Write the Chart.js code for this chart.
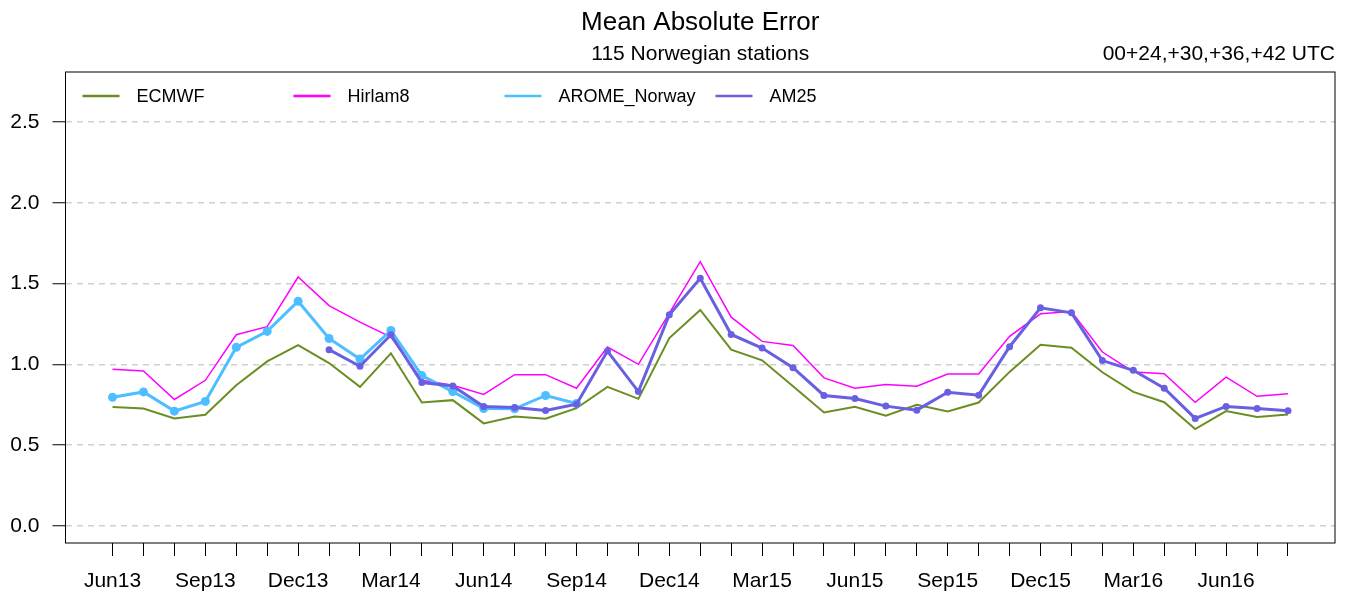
<!DOCTYPE html>
<html>
<head>
<meta charset="utf-8">
<script src="https://cdn.jsdelivr.net/npm/chart.js@4/dist/chart.umd.min.js"></script>
<style>
  body { margin: 0; background: #fff; }
  #wrap { position: relative; width: 1349px; height: 598px; }
</style>
</head>
<body>
<div id="wrap"><canvas id="maeChart"></canvas></div>
<script>
const months = ['Jun13','Jul13','Aug13','Sep13','Oct13','Nov13','Dec13',
  'Jan14','Feb14','Mar14','Apr14','May14','Jun14','Jul14','Aug14','Sep14','Oct14','Nov14','Dec14',
  'Jan15','Feb15','Mar15','Apr15','May15','Jun15','Jul15','Aug15','Sep15','Oct15','Nov15','Dec15',
  'Jan16','Feb16','Mar16','Apr16','May16','Jun16','Jul16','Aug16'];

const ecmwf = [0.736,0.726,0.665,0.687,0.870,1.018,1.119,1.008,0.860,1.068,0.763,0.778,
  0.634,0.677,0.663,0.728,0.860,0.786,1.163,1.337,1.091,1.025,0.864,0.702,
  0.737,0.681,0.749,0.708,0.763,0.953,1.121,1.103,0.951,0.829,0.765,0.599,0.710,0.673,0.689];

const hirlam8 = [0.969,0.959,0.782,0.901,1.183,1.233,1.541,1.364,1.261,1.169,0.901,0.870,
  0.813,0.936,0.936,0.852,1.107,1.000,1.317,1.636,1.292,1.142,1.117,0.916,
  0.852,0.875,0.864,0.940,0.940,1.173,1.313,1.327,1.076,0.953,0.942,0.765,0.920,0.802,0.817];

const aromeNorway = [0.796,0.829,0.710,0.770,1.105,1.204,1.391,1.160,1.033,1.210,0.930,0.831,
  0.726,0.724,0.807,0.757,null,null,null,null,null,null,null,null,
  null,null,null,null,null,null,null,null,null,null,null,null,null,null,null];

const am25 = [null,null,null,null,null,null,null,1.091,0.988,1.183,0.887,0.866,
  0.739,0.733,0.714,0.753,1.082,0.831,1.307,1.533,1.185,1.101,0.979,0.807,
  0.788,0.741,0.716,0.827,0.809,1.109,1.350,1.319,1.023,0.963,0.852,0.665,0.739,0.726,0.712];

const yTicks = [0, 0.5, 1.0, 1.5, 2.0, 2.5];

const toPoints = arr => arr.map((v, i) => ({ x: i, y: v }));

const FONT = 'Liberation Sans, Arial, Helvetica, sans-serif';

// titles, box and the legend inside the plot
const decorations = {
  id: 'decorations',
  afterDraw(chart) {
    const ctx = chart.ctx;
    const a = chart.chartArea;
    const mid = (a.left + a.right) / 2;
    ctx.save();
    ctx.strokeStyle = '#000';
    ctx.lineWidth = 1;
    ctx.strokeRect(a.left, a.top, a.right - a.left, a.bottom - a.top);

    ctx.fillStyle = '#000';
    ctx.textBaseline = 'alphabetic';
    ctx.textAlign = 'center';
    ctx.font = '26px ' + FONT;
    ctx.fillText('Mean Absolute Error', mid, 30);
    ctx.font = '21px ' + FONT;
    ctx.fillText('115 Norwegian stations', mid, 60);
    ctx.textAlign = 'right';
    ctx.fillText('00+24,+30,+36,+42 UTC', a.right, 60);

    const offsets = [17, 228, 439, 650];
    ctx.font = '18px ' + FONT;
    ctx.textAlign = 'left';
    ctx.textBaseline = 'middle';
    chart.data.datasets.forEach((ds, i) => {
      const x = a.left + offsets[i];
      const y = 96;
      ctx.strokeStyle = ds.borderColor;
      ctx.lineWidth = 2.5;
      ctx.beginPath();
      ctx.moveTo(x, y);
      ctx.lineTo(x + 37, y);
      ctx.stroke();
      ctx.fillStyle = '#000';
      ctx.fillText(ds.label, x + 54, y + 1);
    });
    ctx.restore();
  }
};

new Chart(document.querySelector('#maeChart'), {
  type: 'line',
  data: {
    datasets: [
      {
        label: 'ECMWF',
        data: toPoints(ecmwf),
        borderColor: 'rgb(107, 142, 35)',
        borderWidth: 2,
        pointRadius: 0,
        order: 4
      },
      {
        label: 'Hirlam8',
        data: toPoints(hirlam8),
        borderColor: 'rgb(255, 0, 255)',
        borderWidth: 1.5,
        pointRadius: 0,
        order: 3
      },
      {
        label: 'AROME_Norway',
        data: toPoints(aromeNorway),
        borderColor: 'rgb(77, 190, 255)',
        backgroundColor: 'rgb(77, 190, 255)',
        borderWidth: 3,
        pointRadius: 4.5,
        pointBorderWidth: 0,
        order: 2
      },
      {
        label: 'AM25',
        data: toPoints(am25),
        borderColor: 'rgb(104, 96, 224)',
        backgroundColor: 'rgb(104, 96, 224)',
        borderWidth: 3,
        pointRadius: 3.5,
        pointBorderWidth: 0,
        order: 1
      }
    ]
  },
  options: {
    responsive: true,
    maintainAspectRatio: false,
    animation: false,
    layout: { padding: { top: 72, right: 14, bottom: 0, left: 0 } },
    plugins: {
      legend: { display: false },
      tooltip: { enabled: false }
    },
    scales: {
      x: {
        type: 'linear',
        min: -1.52,
        max: 39.52,
        afterFit: s => { s.height = 55; },
        afterBuildTicks: s => { s.ticks = months.map((m, i) => ({ value: i })); },
        border: { display: false },
        grid: {
          drawOnChartArea: false,
          drawTicks: true,
          tickLength: 13,
          tickColor: '#000',
          color: '#000'
        },
        ticks: {
          autoSkip: false,
          maxRotation: 0,
          padding: 13,
          color: '#000',
          font: { family: FONT, size: 21 },
          callback: v => (v % 3 === 0 ? months[v] : '')
        }
      },
      y: {
        min: -0.107,
        max: 2.811,
        afterFit: s => { s.width = 65.5; },
        afterBuildTicks: s => { s.ticks = yTicks.map(v => ({ value: v })); },
        border: { display: false, dash: [6, 5] },
        grid: {
          color: '#d0d0d0',
          lineWidth: 1.5,
          tickLength: 13,
          tickColor: '#000',
          tickWidth: 1
        },
        ticks: {
          padding: 13,
          color: '#000',
          font: { family: FONT, size: 21 },
          callback: v => v.toFixed(1)
        }
      }
    }
  },
  plugins: [decorations]
});
</script>
</body>
</html>
